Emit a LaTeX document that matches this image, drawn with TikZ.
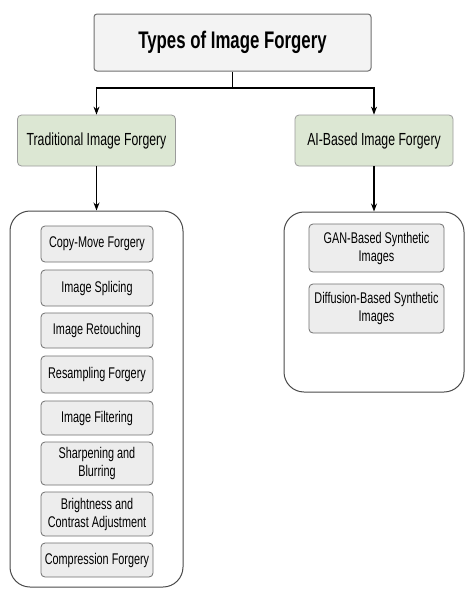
\documentclass[tikz,border=0pt]{standalone}
\usepackage{fontspec}
\setmainfont{Liberation Sans}[FakeStretch=0.7]
\usetikzlibrary{arrows.meta}
\definecolor{titlefill}{HTML}{F3F3F3}
\definecolor{greenfill}{HTML}{DCE7D3}
\definecolor{itemfill}{HTML}{EDEDED}
\definecolor{edgegray}{HTML}{707070}
\definecolor{contgray}{HTML}{4A4A4A}
\begin{document}
\begin{tikzpicture}[x=1pt,y=-1pt,
  titlebox/.style={draw=edgegray,line width=1pt,fill=titlefill,rounded corners=3pt,
    minimum width=277pt,minimum height=57pt,inner sep=0pt,
    font=\fontsize{24}{28}\selectfont\bfseries},
  catbox/.style={draw=edgegray!70,line width=0.8pt,fill=greenfill,rounded corners=4pt,
    minimum width=158pt,minimum height=51pt,inner sep=0pt,
    font=\fontsize{17.5}{20}\selectfont},
  container/.style={draw=contgray,line width=1pt,fill=white,rounded corners=20pt,inner sep=0pt},
  itembox/.style={draw=edgegray,line width=0.8pt,fill=itemfill,rounded corners=4pt,
    minimum width=112pt,inner sep=0pt,align=center,
    font=\fontsize{15.5}{18}\selectfont},
  ritembox/.style={itembox,minimum width=135pt},
  arr/.style={line width=1.1pt,-{Stealth[length=8pt,width=6pt]}},
  ln/.style={line width=1.1pt}]
\useasboundingbox (0,0) rectangle (465,589);
\fill[white] (0,0) rectangle (465,589);

\node[titlebox] (title) at (232.5,42.5) {Types of Image Forgery};
\node[catbox] (trad) at (96.5,140.5) {Traditional Image Forgery};
\node[catbox] (ai) at (374,140.5) {AI-Based Image Forgery};

\node[container,minimum width=173pt,minimum height=376pt] (tcont) at (96.5,399) {};
\node[container,minimum width=180pt,minimum height=180pt] (acont) at (374,302) {};

\coordinate (j) at (232.5,88);
\draw[ln] (title.south) -- (j);
\draw[arr] (j) -| (trad.north);
\draw[arr] (j) -| (ai.north);
\draw[arr] (trad.south) -- (tcont.north);
\draw[arr] (ai.south) -- (acont.north);

\node[itembox,minimum height=36pt] (i1) at (97,244) {Copy-Move Forgery};
\node[itembox,minimum height=36pt] (i2) at (97,288) {Image Splicing};
\node[itembox,minimum height=35pt] (i3) at (97,330.5) {Image Retouching};
\node[itembox,minimum height=37pt] (i4) at (97,374.5) {Resampling Forgery};
\node[itembox,minimum height=34pt] (i5) at (97,418) {Image Filtering};
\node[itembox,minimum height=43pt] (i6) at (97,463.5) {Sharpening and\\Blurring};
\node[itembox,minimum height=44pt] (i7) at (97,514) {Brightness and\\Contrast Adjustment};
\node[itembox,minimum height=34pt] (i8) at (97,560) {Compression Forgery};

\node[ritembox,minimum height=48pt] (r1) at (376.5,248) {GAN-Based Synthetic\\Images};
\node[ritembox,minimum height=49pt] (r2) at (376.5,308.5) {Diffusion-Based Synthetic\\Images};
\end{tikzpicture}
\end{document}
